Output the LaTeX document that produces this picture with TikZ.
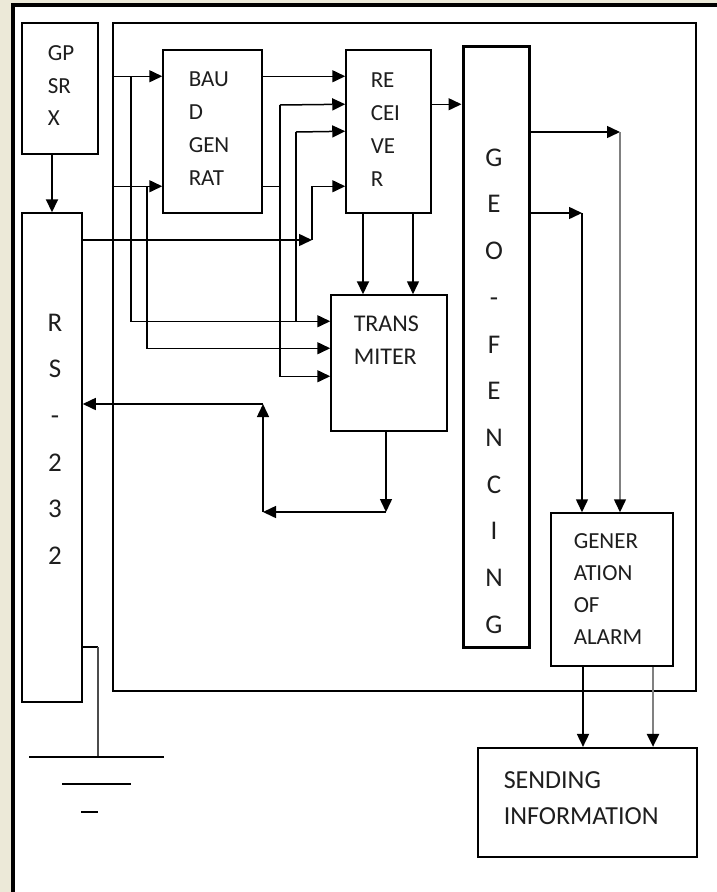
\documentclass[tikz,border=0pt]{standalone}
\usepackage{fontspec}
\setmainfont{Carlito}
\usetikzlibrary{arrows.meta,calc}

\definecolor{fon}{RGB}{236,233,216}
\definecolor{txt}{RGB}{30,30,30}

\tikzset{
  blok/.style={draw, line width=1.5pt, fill=white, inner sep=0pt},
  strel/.style={-{Triangle[length=13pt,width=12pt]}},
  sstrel/.style={draw=gray, -{Triangle[length=13pt,width=12pt,black]}},
  tekst/.style={inner sep=0pt, align=left, anchor=north west, text=txt,
    font=\fontsize{23}{33}\selectfont},
  stolb/.style={inner sep=0pt, align=center, anchor=north, text=txt,
    font=\fontsize{27}{46.7}\selectfont}
}

\begin{document}
\begin{tikzpicture}[x=1pt,y=-1pt,line width=1.5pt]
    \useasboundingbox (0,0) rectangle (717,892);

    % Фон и внешняя рамка
    \fill[fon] (0,0) rectangle (717,892);
    \fill[white] (13,5) rectangle (717,892);
    \draw[line width=3.5pt] (13,892) -- (13,5) -- (717,5);

    % Внутренняя рамка
    \node[draw, line width=2.2pt, inner sep=0pt, minimum width=583pt, minimum height=668pt] (frame) at (404.5,357) {};

    % Блоки
    \node[blok, minimum width=76pt, minimum height=131pt] (gps) at (60,88.5) {};
    \node[blok, minimum width=60pt, minimum height=489pt] (rs) at (52,457.5) {};
    \node[blok, minimum width=99pt, minimum height=163pt] (baud) at (212.5,131.5) {};
    \node[blok, minimum width=85pt, minimum height=163pt] (recv) at (388.5,131.5) {};
    \node[blok, minimum width=116pt, minimum height=136pt] (trans) at (389,363) {};
    \node[blok, line width=3pt, minimum width=66pt, minimum height=601pt] (geo) at (496,346.5) {};
    \node[blok, minimum width=122pt, minimum height=153pt] (alarm) at (612,589.5) {};
    \node[blok, line width=2.2pt, minimum width=219pt, minimum height=109pt] (send) at (587.5,802.5) {};

    % Подписи блоков
    \node[tekst, font=\fontsize{23}{32.5}\selectfont] (gpstxt) at (47,45) {GP\\SR\\X};
    \node[tekst] (baudtxt) at (188,71) {BAU\\D\\GEN\\RAT};
    \node[tekst] (recvtxt) at (370,72) {RE\\CEI\\VE\\R};
    \node[tekst, font=\fontsize{24}{33}\selectfont] (transtxt) at (353,315) {TRANS\\MITER};
    \node[tekst, font=\fontsize{23}{32}\selectfont] (alarmtxt) at (573,533) {GENER\\ATION\\OF\\ALARM};
    \node[tekst, font=\fontsize{26}{36}\selectfont] (sendtxt) at (503,771) {SENDING\\INFORMATION};
    \node[stolb] (rstxt) at (55,313) {R\\S\\-\\2\\3\\2};
    \node[stolb] (geotxt) at (494,148) {G\\E\\O\\-\\F\\E\\N\\C\\I\\N\\G};

    % Входы блоков
    \coordinate (b1) at ($(baud.north west)+(0,27)$);
    \coordinate (b2) at ($(baud.north west)+(0,137)$);
    \coordinate (r1) at ($(recv.north west)+(0,27)$);
    \coordinate (r2) at ($(recv.north west)+(0,55)$);
    \coordinate (r3) at ($(recv.north west)+(0,82)$);
    \coordinate (r4) at ($(recv.north west)+(0,137)$);
    \coordinate (t1) at ($(trans.north west)+(0,27)$);
    \coordinate (t2) at ($(trans.north west)+(0,54)$);
    \coordinate (t3) at ($(trans.north west)+(0,82)$);

    % Узлы разводки
    \coordinate (v1) at (131,77);
    \coordinate (v2) at (147,187);
    \coordinate (v3) at (280,105);
    \coordinate (v4) at (296,132);
    \coordinate (v5) at (312,240);

    % Входы генератора и передатчика от рамки
    \draw[strel] (frame.west |- b1) -- (b1);
    \draw[strel] (frame.west |- b2) -- (b2);
    \draw[strel] (v1) |- (t1);
    \draw[strel] (v2) |- (t2);

    % Выходы генератора
    \draw[strel] (baud.east |- r1) -- (r1);
    \draw (baud.east |- b2) -- (v3 |- b2);
    \draw[strel] (v3) -- (r2);
    \draw[strel] (v3) |- (t3);
    \draw[strel] (v4) -- (r3);
    \draw (v4) -- (v4 |- t1);

    % RS-232 -> приёмник
    \draw[strel] (rs.east |- v5) -- (v5);
    \draw[strel] (v5) |- (r4);

    % GPS -> RS-232
    \draw[strel, line width=2pt] (gps.south -| rs.north) -- (rs.north);

    % Приёмник -> передатчик и геозона
    \draw[strel, line width=2pt] (recv.south -| 363,0) -- (trans.north -| 363,0);
    \draw[strel] (recv.south -| 413,0) -- (trans.north -| 413,0);
    \draw[strel] (recv.east |- r2) -- (geo.west |- r2);

    % Геозона -> сигнализация
    \coordinate (g1) at (620,132);
    \coordinate (g2) at (582,213);
    \draw[strel] (geo.east |- g1) -- (g1);
    \draw[strel] (geo.east |- g2) -- (g2);
    \draw[sstrel] (g1) -- (g1 |- alarm.north);
    \draw[strel] (g2) -- (g2 |- alarm.north);

    % Сигнализация -> отправка
    \draw[strel, line width=1.8pt] (alarm.south -| 583,0) -- (send.north -| 583,0);
    \draw[sstrel, line width=2.4pt] (alarm.south -| 653,0) -- (send.north -| 653,0);

    % Передатчик -> RS-232
    \coordinate (k1) at (386,512);
    \coordinate (k2) at (263,512);
    \coordinate (k3) at (263,404);
    \draw[strel] (trans.south -| k1) -- (k1);
    \draw[strel] (k1) -- (k2);
    \draw[strel] (k2) -- (k3);
    \draw[strel] (k3) -- (rs.east |- k3);

    % Заземление
    \coordinate (gnd) at (98,757);
    \draw[line width=2.2pt] (rs.east |- 0,647) -- (98,647);
    \draw[draw=gray!60!black] (98,647) -- (gnd);
    \draw (29,757) -- (164,757);
    \draw (62,784) -- (131,784);
    \draw[line width=2.2pt] (81,812) -- (98,812);

\end{tikzpicture}
\end{document}
